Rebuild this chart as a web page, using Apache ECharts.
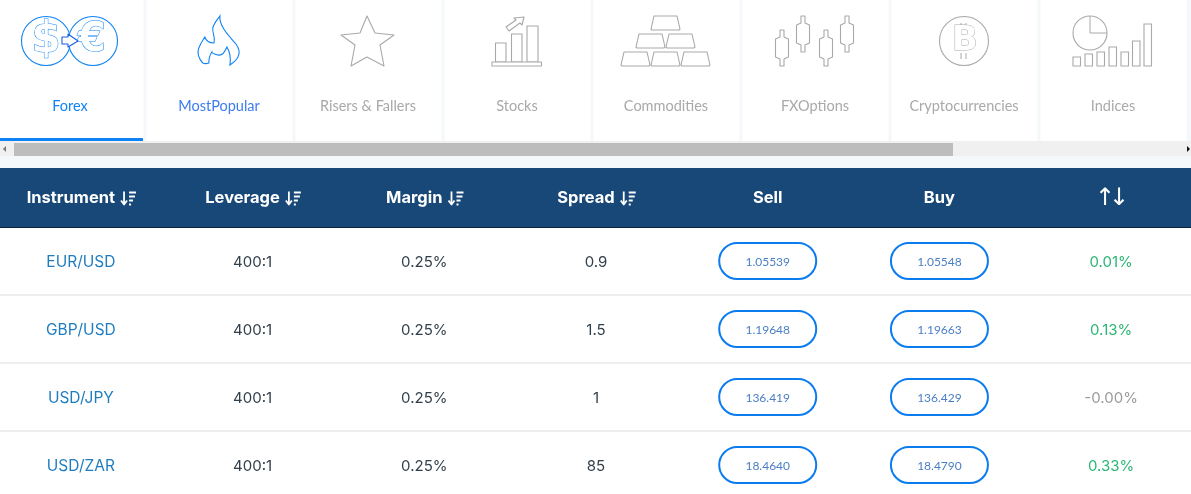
<!DOCTYPE html>
<html>
<head>
<meta charset="utf-8">
<style>
html, body { margin: 0; padding: 0; background: #fff; overflow: hidden; }
#chart-content { width: 1191px; height: 494px; }
</style>
<script src="https://cdn.jsdelivr.net/npm/echarts@6/dist/echarts.min.js"></script>
</head>
<body>
<div id="chart-content"></div>
<script>
// table content
var tabNames = ["Forex", "MostPopular", "Risers & Fallers", "Stocks", "Commodities", "FXOptions", "Cryptocurrencies", "Indices"];
var headers = ["Instrument", "Leverage", "Margin", "Spread", "Sell", "Buy", "↑↓"];
var sortable = [true, true, true, true, false, false, false];
var instruments = ["EUR/USD", "GBP/USD", "USD/JPY", "USD/ZAR"];
var leverage = ["400:1", "400:1", "400:1", "400:1"];
var margin = ["0.25%", "0.25%", "0.25%", "0.25%"];
var spread = ["0.9", "1.5", "1", "85"];
var sell = ["1.05539", "1.19648", "136.419", "18.4640"];
var buy = ["1.05548", "1.19663", "136.429", "18.4790"];
var change = ["0.01%", "0.13%", "-0.00%", "0.33%"];

var FONT = "Lato, 'Noto Sans', sans-serif";
var BODY_FONT = "Inter, Lato, sans-serif";
var BLUE = "#0f83f5";
var GREY = "#a9a9a9";

var columns = [instruments, leverage, margin, spread, sell, buy, change];
var cells = [];
columns.forEach(function (col, c) {
  col.forEach(function (v, r) {
    cells.push([c, r, v]);
  });
});

var measureCtx = document.createElement("canvas").getContext("2d");
function textWidth(str, font) {
  measureCtx.font = font;
  return measureCtx.measureText(str).width;
}

// icon helpers
function line(pts, color, width) {
  return { type: "polyline", shape: { points: pts }, style: { stroke: color, lineWidth: width || 1, fill: null, lineJoin: "round" } };
}
function poly(pts, color, fill) {
  return { type: "polygon", shape: { points: pts }, style: { stroke: color, lineWidth: 1.1, fill: fill || "#fff", lineJoin: "round" } };
}
function box(x, y, w, h, color, r) {
  return { type: "rect", shape: { x: x, y: y, width: w, height: h, r: r || 0 }, style: { stroke: color, lineWidth: 1.1, fill: "#fff" } };
}
function ring(x, y, r, color) {
  return { type: "circle", shape: { cx: x, cy: y, r: r }, style: { stroke: color, lineWidth: 1.1, fill: "#fff" } };
}
function glyph(str, x, y, size, color) {
  return { type: "text", style: { text: str, x: x, y: y, align: "center", verticalAlign: "middle", font: "bold " + size + "px 'DejaVu Sans', sans-serif", fill: "#fff", stroke: color, lineWidth: 1 } };
}

// each icon is drawn in tab-local pixels, x relative to the tab centre
var icons = [
  function () {
    return [
      ring(-24, 41, 24.5, BLUE), ring(23, 41, 24.5, BLUE),
      glyph("$", -24, 41, 42, BLUE), glyph("€", 22, 41, 40, BLUE),
      poly([[-8, 37], [-2, 37], [-2, 34], [8, 41], [-2, 47], [-2, 44], [-8, 44]], "#1a5fe0")
    ];
  },
  function () {
    return [
      { type: "path", shape: { pathData: "M220 16 C219 26 229 36 236 44 C239 48 240 53 238 57 C236 61 233 63 230 65 C231 59 230 52 227 47 C225 52 222 56 218 55 C214 54 212 53 212 52 C210 55 209 59 209 63 C206 64 205 64 203 63 C199 59 197 53 199 48 C201 43 203 40 205 37 C206 40 209 43 214 43 C216 38 212 32 213 28 C214 23 218 19 220 16 Z", x: -21, y: 16, width: 41, height: 49, layout: "cover" }, style: { stroke: BLUE, lineWidth: 1.1, fill: "#fff" } }
    ];
  },
  function () {
    return [poly([[-1, 16], [7, 33], [26, 35], [12, 45], [16, 66], [-1, 57], [-17, 66], [-13, 45], [-27, 35], [-8, 33]], GREY)];
  },
  function () {
    return [
      box(-21.5, 43, 10.5, 19, GREY), box(-5.5, 34, 10.5, 28, GREY), box(10, 26, 11, 36, GREY),
      box(-25, 62, 49.5, 4, GREY),
      poly([[-11, 27], [-1, 20], [-3, 18], [7, 17], [5, 25], [3, 23], [-8, 31]], GREY)
    ];
  },
  function () {
    var out = [];
    [[-14, 16], [-29, 34], [1, 34], [-44, 52], [-14, 52], [16, 52]].forEach(function (p) {
      var x = p[0], y = p[1];
      out.push(poly([[x + 2, y], [x + 25, y], [x + 28, y + 13], [x + 27, y + 14], [x, y + 14], [x - 1, y + 13]], GREY));
    });
    return out;
  },
  function () {
    var out = [];
    [[-33, 30], [-12, 16], [11, 30], [32, 16]].forEach(function (p) {
      var x = p[0], y = p[1];
      out.push(poly([[x - 2, y], [x + 2, y], [x + 2, y + 7], [x + 6.5, y + 9], [x + 6.5, y + 27], [x + 2, y + 29], [x + 2, y + 36], [x - 2, y + 36], [x - 2, y + 29], [x - 6.5, y + 27], [x - 6.5, y + 9], [x - 2, y + 7]], GREY));
    });
    return out;
  },
  function () {
    return [
      ring(0, 41, 24.5, GREY),
      line([[-3, 23], [-3, 29]], GREY), line([[2, 23], [2, 29]], GREY),
      line([[-3, 53], [-3, 59]], GREY), line([[2, 53], [2, 59]], GREY),
      glyph("B", 1, 41, 34, GREY)
    ];
  },
  function () {
    var bars = [[-40, 57], [-28, 54], [-16, 52], [-4, 47], [8, 52], [19.5, 41], [31, 24]];
    var out = [
      { type: "circle", shape: { cx: -23, cy: 33, r: 17 }, style: { stroke: GREY, lineWidth: 1.1, fill: "#fff" } },
      line([[-23, 16], [-23, 33], [-6, 33]], GREY)
    ];
    bars.forEach(function (b) {
      out.push(box(b[0], b[1], 7.5, 66 - b[1], GREY));
    });
    return out;
  }
];

function sortIcon(x, y) {
  var c = "#fff";
  return [
    line([[x + 3, y - 7], [x + 3, y + 5]], c, 1.8),
    line([[x, y + 2], [x + 3, y + 6], [x + 6, y + 2]], c, 1.8),
    line([[x + 8, y - 6], [x + 15, y - 6]], c, 2),
    line([[x + 8, y - 2], [x + 14, y - 2]], c, 2),
    line([[x + 8, y + 2], [x + 12, y + 2]], c, 2),
    line([[x + 8, y + 6], [x + 10, y + 6]], c, 2)
  ];
}

function renderTab(params, api) {
  var i = api.value(0);
  var p = api.coord([i, 0]);
  var size = api.size([1, 1]);
  var color = i === 0 ? BLUE : i === 1 ? "#3d7cf2" : GREY;
  var children = [
    { type: "rect", shape: { x: p[0] - 72.5, y: 0, width: 146, height: size[1] }, style: { fill: "#fff" } },
    { type: "group", x: p[0], y: 0, children: icons[i]() },
    { type: "text", style: { text: tabNames[i], x: p[0], y: 106, align: "center", verticalAlign: "middle", font: "14.5px " + FONT, fill: color } }
  ];
  if (i === 0) {
    children.push({ type: "rect", shape: { x: 0, y: 138, width: 143, height: 3 }, style: { fill: BLUE } });
  }
  return { type: "group", children: children };
}

function renderHeader(params, api) {
  var c = api.value(0);
  var p = api.coord([c, 0]);
  var font = "bold 16.5px " + BODY_FONT;
  var cy = p[1] + 1;
  if (c === 6) {
    return {
      type: "group",
      children: headers[c].split("").map(function (ch, k) {
        return { type: "text", style: { text: ch, x: p[0] - 6 + k * 14, y: cy, align: "center", verticalAlign: "middle", font: "24px 'DejaVu Sans', sans-serif", fill: "#fff" } };
      })
    };
  }
  var w = textWidth(headers[c], font);
  var total = sortable[c] ? w + 20 : w;
  var left = p[0] - total / 2;
  var kids = [{ type: "text", style: { text: headers[c], x: left, y: cy, align: "left", verticalAlign: "middle", font: font, fill: "#fff" } }];
  if (sortable[c]) kids = kids.concat(sortIcon(left + w + 6, cy));
  return { type: "group", children: kids };
}

function changeColor(v) {
  return v.indexOf("-0.00") === 0 ? "#9a9a9a" : "#2bb673";
}

function renderCell(params, api) {
  var c = api.value(0), r = api.value(1);
  var p = api.coord([c, r]);
  var v = cells[params.dataIndex][2];
  if (c === 4 || c === 5) {
    return {
      type: "group",
      children: [
        { type: "rect", shape: { x: p[0] - 48.5, y: p[1] - 18, width: 97, height: 36, r: 18 }, style: { fill: "#fff", stroke: "#0a7cf0", lineWidth: 2 } },
        { type: "text", style: { text: v, x: p[0], y: p[1] + 1, align: "center", verticalAlign: "middle", font: "12px " + FONT, fill: "#4a7fc4" } }
      ]
    };
  }
  var color = c === 0 ? "#1f7dbf" : c === 6 ? changeColor(v) : "#33404c";
  return { type: "text", style: { text: v, x: p[0], y: p[1] + 1, align: "center", verticalAlign: "middle", font: (c === 0 ? "15.5px " : "15px ") + BODY_FONT, fill: color } };
}

function renderRowLine(params, api) {
  var r = api.value(0);
  var p = api.coord([0, r]);
  var h = api.size([1, 1])[1];
  return { type: "rect", shape: { x: 0, y: p[1] + h / 2 - 1, width: 1191, height: 2 }, style: { fill: "#eeeeee" } };
}

var myChart = echarts.init(document.getElementById("chart-content"));

var option = {
  animation: false,
  backgroundColor: "#ffffff",
  tooltip: { show: false },
  grid: [
    { left: -4.5, top: 0, width: 1192, height: 141, outerBoundsMode: "none" },
    { left: -5, top: 168, width: 1202, height: 59, outerBoundsMode: "none" },
    { left: -5, top: 227, width: 1202, height: 272, outerBoundsMode: "none" }
  ],
  xAxis: [
    { type: "category", gridIndex: 0, show: false, data: tabNames },
    { type: "category", gridIndex: 1, show: false, data: headers },
    { type: "category", gridIndex: 2, show: false, data: headers }
  ],
  yAxis: [
    { type: "category", gridIndex: 0, show: false, data: ["tabs"] },
    { type: "category", gridIndex: 1, show: false, data: ["header"] },
    { type: "category", gridIndex: 2, show: false, inverse: true, data: instruments }
  ],
  graphic: [
    // page strip behind tabs
    { type: "rect", z: -1, shape: { x: 0, y: 0, width: 1191, height: 168 }, style: { fill: "#f4f8fb" } },
    // scrollbar
    { type: "rect", z: -1, shape: { x: 0, y: 141, width: 1191, height: 15 }, style: { fill: "#f0f0f0" } },
    { type: "rect", z: -1, shape: { x: 14, y: 143, width: 939, height: 13 }, style: { fill: "#bdbdbd" } },
    { type: "polygon", z: -1, shape: { points: [[6, 146], [6, 152], [3, 149]] }, style: { fill: "#777" } },
    { type: "polygon", z: -1, shape: { points: [[1187, 146], [1187, 152], [1190, 149]] }, style: { fill: "#111" } },
    // header band
    { type: "rect", z: -1, shape: { x: 0, y: 168, width: 1191, height: 59 }, style: { fill: "#174877" } },
    { type: "rect", z: -1, shape: { x: 0, y: 227, width: 1191, height: 1 }, style: { fill: "#0e2236" } }
  ],
  series: [
    {
      type: "custom", xAxisIndex: 0, yAxisIndex: 0, silent: true, clip: false,
      renderItem: renderTab,
      data: tabNames.map(function (n, i) { return [i, 0]; })
    },
    {
      type: "custom", xAxisIndex: 1, yAxisIndex: 1, silent: true, clip: false,
      renderItem: renderHeader,
      data: headers.map(function (n, i) { return [i, 0]; })
    },
    {
      type: "custom", xAxisIndex: 2, yAxisIndex: 2, silent: true, clip: false,
      renderItem: renderRowLine,
      encode: { y: 0 },
      data: instruments.map(function (n, i) { return [i]; })
    },
    {
      type: "custom", xAxisIndex: 2, yAxisIndex: 2, silent: true, clip: false,
      renderItem: renderCell,
      data: cells.map(function (d) { return [d[0], d[1]]; })
    }
  ]
};

// use configuration item and data specified to show chart
myChart.setOption(option);
</script>
</body>
</html>
